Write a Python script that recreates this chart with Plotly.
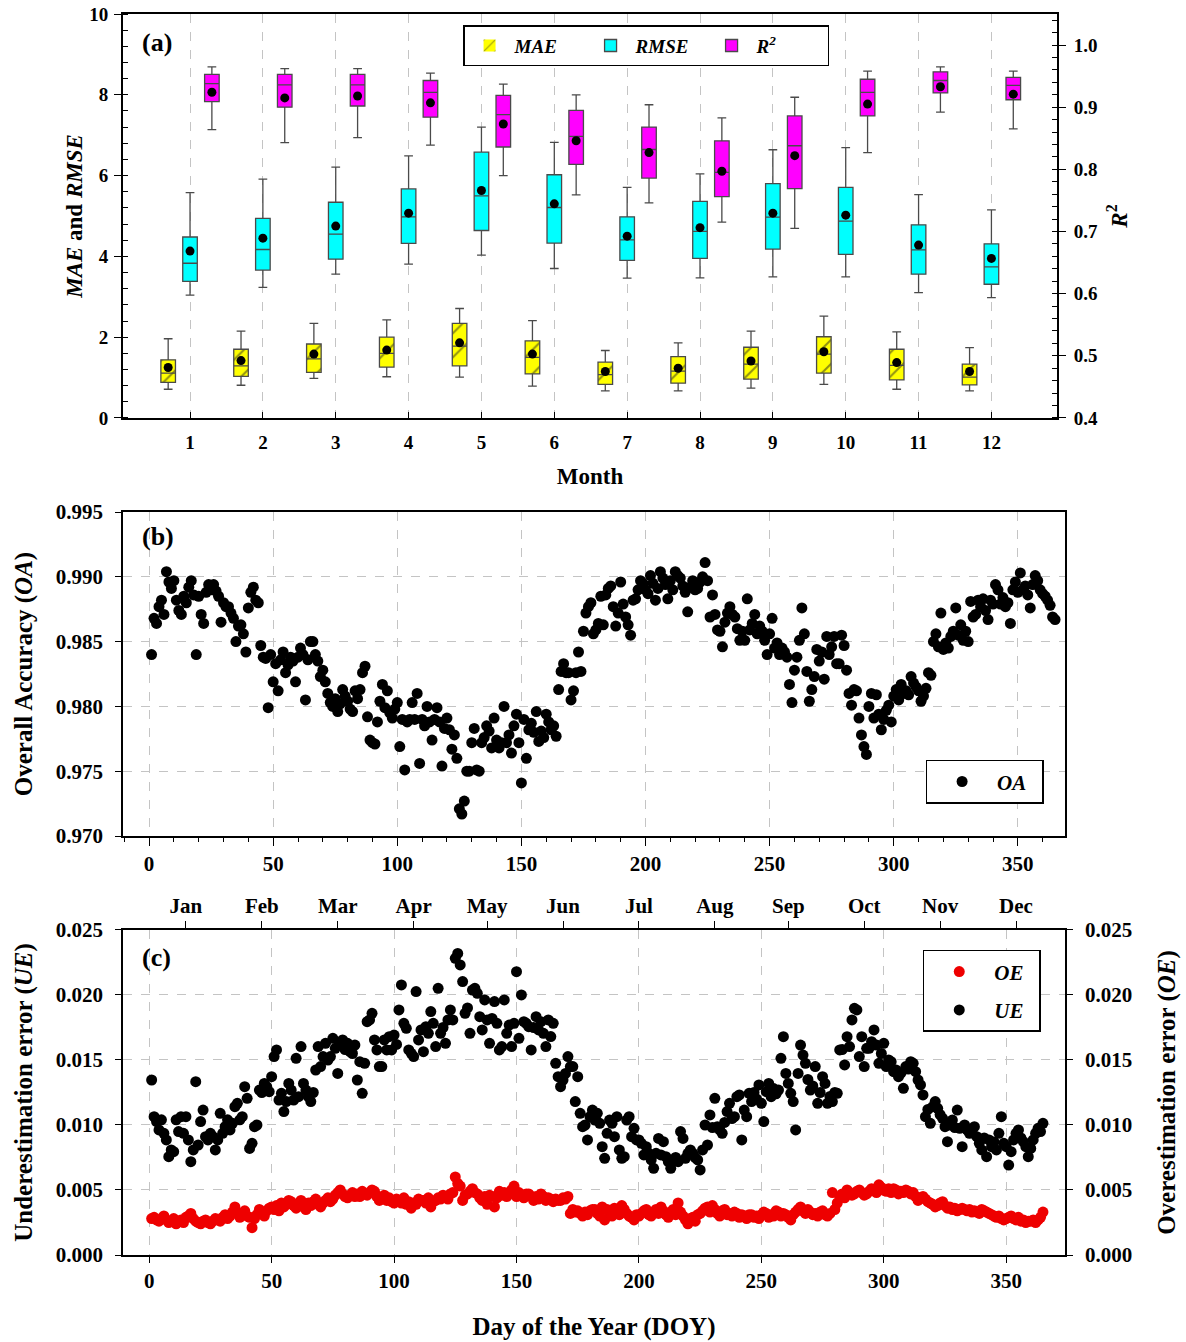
import plotly.graph_objects as go

# ---------------- Panel (a): monthly box statistics ----------------
months = list(range(1, 13))

mae_low = [0.71, 0.81, 0.98, 1.02, 1.01, 0.79, 0.67, 0.67, 0.74, 0.83, 0.71, 0.67]
mae_q1 = [0.88, 1.03, 1.13, 1.26, 1.29, 1.09, 0.83, 0.86, 0.96, 1.11, 0.94, 0.82]
mae_med = [1.11, 1.29, 1.46, 1.60, 1.78, 1.50, 1.07, 1.16, 1.33, 1.58, 1.30, 1.01]
mae_q3 = [1.44, 1.70, 1.83, 2.00, 2.34, 1.91, 1.38, 1.52, 1.75, 2.01, 1.70, 1.33]
mae_high = [1.96, 2.15, 2.34, 2.43, 2.71, 2.41, 1.67, 1.86, 2.15, 2.52, 2.13, 1.74]
mae_mean = [1.25, 1.42, 1.58, 1.68, 1.86, 1.58, 1.15, 1.23, 1.41, 1.64, 1.37, 1.15]

rmse_low = [3.04, 3.23, 3.56, 3.81, 4.03, 3.70, 3.46, 3.47, 3.49, 3.49, 3.10, 2.98]
rmse_q1 = [3.38, 3.66, 3.93, 4.32, 4.64, 4.33, 3.90, 3.95, 4.18, 4.05, 3.56, 3.31]
rmse_med = [3.83, 4.17, 4.55, 4.98, 5.50, 5.21, 4.41, 4.62, 4.97, 4.87, 4.16, 3.74]
rmse_q3 = [4.48, 4.94, 5.34, 5.67, 6.58, 6.02, 4.98, 5.36, 5.80, 5.71, 4.78, 4.31]
rmse_high = [5.58, 5.91, 6.21, 6.49, 7.20, 6.82, 5.71, 6.04, 6.64, 6.69, 5.53, 5.15]
rmse_mean = [4.13, 4.45, 4.75, 5.07, 5.63, 5.30, 4.50, 4.71, 5.07, 5.02, 4.28, 3.95]

r2_low = [0.864, 0.843, 0.851, 0.839, 0.790, 0.759, 0.746, 0.715, 0.705, 0.827, 0.892, 0.865]
r2_q1 = [0.909, 0.900, 0.902, 0.884, 0.836, 0.808, 0.786, 0.756, 0.769, 0.886, 0.923, 0.912]
r2_med = [0.938, 0.936, 0.936, 0.924, 0.888, 0.853, 0.832, 0.795, 0.838, 0.924, 0.943, 0.935]
r2_q3 = [0.953, 0.953, 0.953, 0.943, 0.919, 0.895, 0.868, 0.846, 0.886, 0.945, 0.957, 0.948]
r2_high = [0.965, 0.962, 0.962, 0.955, 0.937, 0.920, 0.904, 0.883, 0.916, 0.958, 0.965, 0.958]
r2_mean = [0.924, 0.915, 0.918, 0.907, 0.873, 0.846, 0.827, 0.797, 0.822, 0.905, 0.933, 0.921]

# ---------------- Panel (b): daily overall accuracy ----------------
oa = [
    0.9840, 0.9868, 0.9864, 0.9877, 0.9882, 0.9871, 0.9904, 0.9896, 0.9891, 0.9897,
    0.9882, 0.9874, 0.9871, 0.9885, 0.9880, 0.9892, 0.9897, 0.9886, 0.9840, 0.9885,
    0.9871, 0.9864, 0.9888, 0.9894, 0.9890, 0.9894, 0.9889, 0.9885, 0.9865, 0.9880,
    0.9877, 0.9877, 0.9872, 0.9868, 0.9850, 0.9862, 0.9863, 0.9856, 0.9842, 0.9876,
    0.9888, 0.9892, 0.9882, 0.9880, 0.9847, 0.9838, 0.9837, 0.9799, 0.9840, 0.9819,
    0.9833, 0.9812, 0.9836, 0.9842, 0.9826, 0.9832, 0.9838, 0.9835, 0.9819, 0.9838,
    0.9845, 0.9840, 0.9805, 0.9836, 0.9850, 0.9850, 0.9840, 0.9835, 0.9823, 0.9828,
    0.9819, 0.9810, 0.9803, 0.9800, 0.9806, 0.9796, 0.9802, 0.9813, 0.9808, 0.9804,
    0.9798, 0.9796, 0.9812, 0.9806, 0.9813, 0.9826, 0.9831, 0.9792, 0.9774, 0.9772,
    0.9771, 0.9788, 0.9804, 0.9817, 0.9799, 0.9812, 0.9795, 0.9791, 0.9798, 0.9803,
    0.9769, 0.9790, 0.9751, 0.9788, 0.9790, 0.9803, 0.9790, 0.9810, 0.9756, 0.9790,
    0.9785, 0.9800, 0.9788, 0.9774, 0.9790, 0.9799, 0.9788, 0.9754, 0.9783, 0.9791,
    0.9782, 0.9767, 0.9778, 0.9760, 0.9721, 0.9717, 0.9727, 0.9750, 0.9750, 0.9772,
    0.9783, 0.9751, 0.9750, 0.9772, 0.9776, 0.9785, 0.9781, 0.9768, 0.9791, 0.9774,
    0.9768, 0.9772, 0.9800, 0.9772, 0.9778, 0.9764, 0.9785, 0.9794, 0.9772, 0.9741,
    0.9790, 0.9760, 0.9782, 0.9787, 0.9780, 0.9796, 0.9773, 0.9781, 0.9776, 0.9794,
    0.9788, 0.9782, 0.9785, 0.9777, 0.9813, 0.9827, 0.9833, 0.9826, 0.9826, 0.9805,
    0.9812, 0.9826, 0.9842, 0.9827, 0.9858, 0.9872, 0.9877, 0.9880, 0.9856, 0.9859,
    0.9864, 0.9885, 0.9863, 0.9886, 0.9891, 0.9893, 0.9877, 0.9862, 0.9872, 0.9896,
    0.9879, 0.9869, 0.9863, 0.9855, 0.9882, 0.9883, 0.9890, 0.9897, 0.9895, 0.9890,
    0.9887, 0.9901, 0.9895, 0.9882, 0.9891, 0.9904, 0.9899, 0.9894, 0.9883, 0.9897,
    0.9890, 0.9904, 0.9901, 0.9899, 0.9893, 0.9888, 0.9873, 0.9892, 0.9897, 0.9890,
    0.9891, 0.9896, 0.9900, 0.9911, 0.9897, 0.9869, 0.9886, 0.9871, 0.9859, 0.9858,
    0.9846, 0.9865, 0.9872, 0.9877, 0.9871, 0.9869, 0.9860, 0.9851, 0.9858, 0.9851,
    0.9883, 0.9859, 0.9864, 0.9871, 0.9856, 0.9862, 0.9858, 0.9851, 0.9840, 0.9856,
    0.9868, 0.9845, 0.9849, 0.9840, 0.9845, 0.9842, 0.9838, 0.9817, 0.9803, 0.9828,
    0.9838, 0.9851, 0.9876, 0.9856, 0.9827, 0.9804, 0.9813, 0.9823, 0.9844, 0.9835,
    0.9842, 0.9821, 0.9854, 0.9840, 0.9846, 0.9854, 0.9833, 0.9833, 0.9855, 0.9847,
    0.9828, 0.9810, 0.9801, 0.9813, 0.9812, 0.9791, 0.9778, 0.9769, 0.9763, 0.9800,
    0.9810, 0.9791, 0.9809, 0.9794, 0.9782, 0.9790, 0.9797, 0.9801, 0.9788, 0.9808,
    0.9813, 0.9805, 0.9817, 0.9810, 0.9812, 0.9809, 0.9823, 0.9818, 0.9815, 0.9812,
    0.9804, 0.9808, 0.9814, 0.9826, 0.9824, 0.9850, 0.9856, 0.9846, 0.9872, 0.9844,
    0.9849, 0.9845, 0.9854, 0.9858, 0.9876, 0.9855, 0.9863, 0.9851, 0.9858, 0.9850,
    0.9881, 0.9869, 0.9871, 0.9882, 0.9877, 0.9883, 0.9874, 0.9867, 0.9882, 0.9879,
    0.9894, 0.9890, 0.9879, 0.9884, 0.9877, 0.9880, 0.9864, 0.9890, 0.9896, 0.9888,
    0.9903, 0.9890, 0.9893, 0.9886, 0.9876, 0.9894, 0.9901, 0.9897, 0.9890, 0.9887,
    0.9885, 0.9882, 0.9878, 0.9869, 0.9867,
]

# ---------------- Panel (c): daily under/over-estimation errors ----------------
ue = [
    0.01346, 0.01064, 0.01026, 0.00962, 0.01040, 0.00936, 0.00885, 0.00756, 0.00808, 0.00795,
    0.01040, 0.00949, 0.01064, 0.00936, 0.01064, 0.00885, 0.00718, 0.00808, 0.01333, 0.00846,
    0.01026, 0.01115, 0.00910, 0.00885, 0.00936, 0.00910, 0.00808, 0.00885, 0.01090, 0.00936,
    0.00987, 0.01040, 0.00962, 0.01013, 0.01141, 0.01167, 0.01040, 0.01064, 0.01295, 0.01205,
    0.00820, 0.00859, 0.00987, 0.01000, 0.01269, 0.01250, 0.01320, 0.01295, 0.01256, 0.01372,
    0.01526, 0.01577, 0.01192, 0.01244, 0.01103, 0.01180, 0.01320, 0.01269, 0.01192, 0.01513,
    0.01218, 0.01603, 0.01320, 0.01269, 0.01218, 0.01180, 0.01250, 0.01423, 0.01603, 0.01449,
    0.01526, 0.01628, 0.01500, 0.01526, 0.01667, 0.01590, 0.01397, 0.01620, 0.01654, 0.01580,
    0.01628, 0.01564, 0.01550, 0.01615, 0.01346, 0.01487, 0.01244, 0.01474, 0.01795, 0.01808,
    0.01859, 0.01654, 0.01577, 0.01449, 0.01449, 0.01654, 0.01577, 0.01679, 0.01577, 0.01692,
    0.01620, 0.01885, 0.02077, 0.01782, 0.01744, 0.01577, 0.01551, 0.01526, 0.02026, 0.01654,
    0.01731, 0.01564, 0.01756, 0.01705, 0.01872, 0.01782, 0.01603, 0.02051, 0.01705, 0.01750,
    0.01628, 0.01808, 0.01885, 0.01808, 0.02282, 0.02320, 0.02231, 0.02103, 0.01859, 0.01900,
    0.01705, 0.02038, 0.02051, 0.02013, 0.01833, 0.01731, 0.01962, 0.01808, 0.01628, 0.01820,
    0.01949, 0.01782, 0.01577, 0.01603, 0.01962, 0.01705, 0.01769, 0.01603, 0.01782, 0.02179,
    0.01667, 0.02000, 0.01795, 0.01782, 0.01756, 0.01577, 0.01750, 0.01833, 0.01731, 0.01795,
    0.01705, 0.01603, 0.01808, 0.01680, 0.01782, 0.01474, 0.01372, 0.01295, 0.01346, 0.01397,
    0.01526, 0.01449, 0.01449, 0.01180, 0.01372, 0.01090, 0.00987, 0.01000, 0.00885, 0.01064,
    0.01115, 0.01038, 0.01090, 0.01013, 0.00833, 0.00744, 0.00936, 0.01038, 0.01013, 0.00910,
    0.01064, 0.00808, 0.00744, 0.00756, 0.01038, 0.01064, 0.00910, 0.00974, 0.00885, 0.00885,
    0.00859, 0.00770, 0.00833, 0.00782, 0.00731, 0.00667, 0.00782, 0.00897, 0.00770, 0.00872,
    0.00756, 0.00718, 0.00667, 0.00731, 0.00750, 0.00718, 0.00949, 0.00897, 0.00744, 0.00782,
    0.00808, 0.00782, 0.00750, 0.00731, 0.00654, 0.00808, 0.01000, 0.00846, 0.01077, 0.00980,
    0.01205, 0.00987, 0.00962, 0.00936, 0.01020, 0.01103, 0.01167, 0.01050, 0.01064, 0.01218,
    0.01231, 0.00885, 0.01115, 0.01064, 0.01244, 0.01180, 0.01250, 0.01200, 0.01308, 0.01167,
    0.01026, 0.01256, 0.01320, 0.01218, 0.01280, 0.01240, 0.01269, 0.01513, 0.01679, 0.01397,
    0.01320, 0.01244, 0.01180, 0.00962, 0.01397, 0.01615, 0.01538, 0.01474, 0.01350, 0.01269,
    0.01300, 0.01449, 0.01167, 0.01250, 0.01372, 0.01320, 0.01167, 0.01220, 0.01180, 0.01250,
    0.01244, 0.01577, 0.01580, 0.01462, 0.01679, 0.01603, 0.01808, 0.01897, 0.01885, 0.01526,
    0.01679, 0.01449, 0.01590, 0.01590, 0.01641, 0.01731, 0.01615, 0.01474, 0.01550, 0.01628,
    0.01449, 0.01500, 0.01487, 0.01410, 0.01423, 0.01372, 0.01400, 0.01282, 0.01449, 0.01430,
    0.01487, 0.01474, 0.01410, 0.01346, 0.01308, 0.01231, 0.01064, 0.01120, 0.01013, 0.01141,
    0.01180, 0.01128, 0.01080, 0.01051, 0.00987, 0.00872, 0.01000, 0.01038, 0.00980, 0.01115,
    0.00974, 0.00833, 0.01000, 0.00962, 0.00936, 0.00950, 0.00987, 0.00910, 0.00859, 0.00808,
    0.00900, 0.00756, 0.00885, 0.00833, 0.00870, 0.00808, 0.00936, 0.01064, 0.00859, 0.00833,
    0.00692, 0.00795, 0.00885, 0.00936, 0.00962, 0.00900, 0.00872, 0.00833, 0.00756, 0.00820,
    0.00885, 0.00936, 0.00974, 0.00949, 0.01013,
]

oe = [
    0.0028, 0.0029, 0.0027, 0.0026, 0.0028, 0.0030, 0.0027, 0.0025, 0.0026, 0.0028,
    0.0024, 0.0026, 0.0027, 0.0025, 0.0029, 0.0030, 0.0032, 0.0028, 0.0026, 0.0025,
    0.0024, 0.0026, 0.0027, 0.0025, 0.0024, 0.0026, 0.0028, 0.0027, 0.0026, 0.0029,
    0.0031, 0.0028, 0.0030, 0.0033, 0.0037, 0.0032, 0.0029, 0.0031, 0.0034, 0.0030,
    0.0029, 0.0021, 0.0028, 0.0031, 0.0035, 0.0033, 0.0030, 0.0034, 0.0036, 0.0037,
    0.0035, 0.0038, 0.0034, 0.0040, 0.0037, 0.0039, 0.0042, 0.0041, 0.0038, 0.0036,
    0.0039, 0.0042, 0.0037, 0.0035, 0.0040, 0.0038, 0.0041, 0.0043, 0.0039, 0.0037,
    0.0040, 0.0042, 0.0044, 0.0041, 0.0043, 0.0046, 0.0048, 0.0050, 0.0047, 0.0045,
    0.0044, 0.0046, 0.0048, 0.0045, 0.0047, 0.0045, 0.0049, 0.0047, 0.0046, 0.0048,
    0.0050, 0.0049, 0.0045, 0.0042, 0.0044, 0.0046, 0.0042, 0.0044, 0.0041, 0.0040,
    0.0043, 0.0042, 0.0040, 0.0044, 0.0039, 0.0041, 0.0036, 0.0040, 0.0039, 0.0043,
    0.0042, 0.0042, 0.0040, 0.0044, 0.0037, 0.0041, 0.0042, 0.0044, 0.0043, 0.0046,
    0.0045, 0.0043, 0.0047, 0.0048, 0.0060, 0.0055, 0.0053, 0.0042, 0.0046, 0.0047,
    0.0049, 0.0051, 0.0048, 0.0047, 0.0044, 0.0042, 0.0045, 0.0039, 0.0046, 0.0045,
    0.0037, 0.0044, 0.0049, 0.0046, 0.0048, 0.0045, 0.0047, 0.0050, 0.0053, 0.0045,
    0.0048, 0.0046, 0.0044, 0.0047, 0.0047, 0.0045, 0.0042, 0.0045, 0.0043, 0.0047,
    0.0045, 0.0042, 0.0044, 0.0043, 0.0041, 0.0043, 0.0042, 0.0042, 0.0044, 0.0043,
    0.0045, 0.0032, 0.0035, 0.0033, 0.0034, 0.0032, 0.0030, 0.0033, 0.0031, 0.0034,
    0.0035, 0.0035, 0.0032, 0.0030, 0.0037, 0.0027, 0.0035, 0.0033, 0.0030, 0.0036,
    0.0034, 0.0031, 0.0038, 0.0035, 0.0032, 0.0030, 0.0029, 0.0027, 0.0031, 0.0030,
    0.0032, 0.0034, 0.0035, 0.0031, 0.0030, 0.0033, 0.0035, 0.0032, 0.0037, 0.0034,
    0.0031, 0.0029, 0.0033, 0.0035, 0.0031, 0.0040, 0.0033, 0.0030, 0.0027, 0.0024,
    0.0028, 0.0029, 0.0026, 0.0031, 0.0032, 0.0034, 0.0036, 0.0037, 0.0033, 0.0038,
    0.0035, 0.0032, 0.0030, 0.0034, 0.0035, 0.0031, 0.0032, 0.0030, 0.0033, 0.0032,
    0.0029, 0.0031, 0.0030, 0.0028, 0.0031, 0.0031, 0.0029, 0.0030, 0.0028, 0.0031,
    0.0033, 0.0032, 0.0029, 0.0031, 0.0030, 0.0034, 0.0033, 0.0030, 0.0032, 0.0031,
    0.0029, 0.0027, 0.0031, 0.0033, 0.0035, 0.0037, 0.0034, 0.0032, 0.0035, 0.0033,
    0.0031, 0.0032, 0.0030, 0.0033, 0.0034, 0.0031, 0.0030, 0.0032, 0.0048, 0.0035,
    0.0040, 0.0045, 0.0047, 0.0044, 0.0050, 0.0048, 0.0046, 0.0047, 0.0049, 0.0050,
    0.0048, 0.0046, 0.0047, 0.0049, 0.0051, 0.0050, 0.0048, 0.0054, 0.0052, 0.0050,
    0.0049, 0.0051, 0.0048, 0.0051, 0.0050, 0.0047, 0.0049, 0.0048, 0.0050, 0.0049,
    0.0047, 0.0048, 0.0045, 0.0042, 0.0044, 0.0045, 0.0043, 0.0041, 0.0040, 0.0039,
    0.0037, 0.0038, 0.0040, 0.0041, 0.0038, 0.0036, 0.0037, 0.0035, 0.0036, 0.0034,
    0.0035, 0.0036, 0.0035, 0.0034, 0.0035, 0.0033, 0.0034, 0.0033, 0.0032, 0.0035,
    0.0034, 0.0033, 0.0032, 0.0031, 0.0030, 0.0029, 0.0030, 0.0028, 0.0027, 0.0028,
    0.0029, 0.0030, 0.0028, 0.0027, 0.0029, 0.0026, 0.0027, 0.0025, 0.0026, 0.0026,
    0.0027, 0.0025, 0.0027, 0.0029, 0.0033,
]

month_names = ["Jan", "Feb", "Mar", "Apr", "May", "Jun", "Jul", "Aug", "Sep", "Oct", "Nov", "Dec"]
month_mid_doy = [15, 46, 77, 108, 138, 169, 200, 231, 261, 292, 323, 354]

doy_oa = list(range(1, len(oa) + 1))
doy_ue = list(range(1, len(ue) + 1))
doy_oe = list(range(1, len(oe) + 1))

# ---------------- styling ----------------
FONT = "Liberation Serif"
GRID = "#c4c4c4"
BOXLINE = "#4a4a4a"

x_mae = [m - 0.3 for m in months]
x_rmse = [m for m in months]
x_r2 = [m + 0.3 for m in months]

fig = go.Figure()

# MAE: yellow hatched body (bar) + box outline/whiskers on top
fig.add_trace(go.Bar(
    x=x_mae, y=[b - a for a, b in zip(mae_q1, mae_q3)], base=mae_q1, width=0.2,
    marker=dict(color="#ffff00", line=dict(width=0),
                pattern=dict(shape="/", fgcolor="#222222", size=17, solidity=0.12, fillmode="overlay")),
    name="<i>MAE</i>", legend="legend", xaxis="x", yaxis="y", hoverinfo="skip",
))
fig.add_trace(go.Box(
    x=x_mae, q1=mae_q1, median=mae_med, q3=mae_q3, lowerfence=mae_low, upperfence=mae_high,
    width=0.2, whiskerwidth=0.6, fillcolor="rgba(0,0,0,0)", line=dict(color=BOXLINE, width=1.3),
    boxpoints=False, showlegend=False, xaxis="x", yaxis="y",
))
fig.add_trace(go.Box(
    x=x_rmse, q1=rmse_q1, median=rmse_med, q3=rmse_q3, lowerfence=rmse_low, upperfence=rmse_high,
    width=0.2, whiskerwidth=0.6, fillcolor="#00ffff", line=dict(color=BOXLINE, width=1.3),
    boxpoints=False, name="<i>RMSE</i>", legend="legend", xaxis="x", yaxis="y",
))
fig.add_trace(go.Box(
    x=x_r2, q1=r2_q1, median=r2_med, q3=r2_q3, lowerfence=r2_low, upperfence=r2_high,
    width=0.2, whiskerwidth=0.6, fillcolor="#ff00ff", line=dict(color=BOXLINE, width=1.3),
    boxpoints=False, name="<i>R</i><sup>2</sup>", legend="legend", xaxis="x", yaxis="y2",
))
# mean dots
fig.add_trace(go.Scatter(x=x_mae + x_rmse, y=mae_mean + rmse_mean, mode="markers",
                         marker=dict(color="black", size=9), showlegend=False, xaxis="x", yaxis="y"))
fig.add_trace(go.Scatter(x=x_r2, y=r2_mean, mode="markers",
                         marker=dict(color="black", size=9), showlegend=False, xaxis="x", yaxis="y2"))

# Panel (b)
fig.add_trace(go.Scatter(x=doy_oa, y=oa, mode="markers", marker=dict(color="black", size=11),
                         name="<i>OA</i>&nbsp;&nbsp;", legend="legend2", xaxis="x2", yaxis="y3"))

# Panel (c): UE on bottom/left axes, OE on top/right axes (identical DOY and value scales)
fig.add_trace(go.Scatter(x=doy_oe, y=oe, mode="markers", marker=dict(color="#ee0000", size=11),
                         name="<i>OE</i>&nbsp;&nbsp;", legend="legend3", legendgroup="oe",
                         xaxis="x4", yaxis="y5"))
fig.add_trace(go.Scatter(x=doy_ue, y=ue, mode="markers", marker=dict(color="black", size=11),
                         name="<i>UE</i>&nbsp;&nbsp;", legend="legend3", legendgroup="ue",
                         xaxis="x3", yaxis="y4"))

tickA = dict(family=FONT, size=19, color="black", weight="bold")
tickB = dict(family=FONT, size=21, color="black", weight="bold")
titleA = dict(family=FONT, size=23, color="black", weight="bold")
titleB = dict(family=FONT, size=25, color="black", weight="bold")
legf = dict(family=FONT, size=21, color="black", weight="bold", style="italic")

fig.update_layout(
    width=1186, height=1342,
    margin=dict(l=123, r=121, t=14, b=87, autoexpand=False),
    paper_bgcolor="white", plot_bgcolor="white",
    barmode="overlay",
    font=dict(family=FONT, color="black"),
    # ---- (a) ----
    xaxis=dict(domain=[0, 0.9915], anchor="y", range=[0.08, 12.9], automargin=False,
               tickvals=months, ticks="inside", ticklen=6, tickcolor="black", ticklabelstandoff=6,
               showline=True, linecolor="black", linewidth=2, mirror=True,
               showgrid=True, gridcolor=GRID, griddash="dash", gridwidth=1,
               tickfont=tickA, zeroline=False,
               title=dict(text="Month", font=titleA, standoff=16)),
    yaxis=dict(domain=[0.6745, 1.0], anchor="x", range=[0, 10], dtick=2, automargin=False,
               ticks="outside", ticklen=7, tickcolor="black", ticklabelstandoff=2,
               minor=dict(dtick=0.4, ticks="inside", ticklen=5, tickcolor="black", showgrid=False),
               showline=True, linecolor="black", linewidth=2, showgrid=False, zeroline=False,
               tickfont=tickA,
               title=dict(text="<i>MAE</i> and <i>RMSE</i>", font=titleA, standoff=0)),
    yaxis2=dict(overlaying="y", side="right", anchor="x", range=[0.4, 1.05], dtick=0.1, automargin=False,
                tickformat=".1f", ticks="outside", ticklen=7, tickcolor="black", ticklabelstandoff=4,
                minor=dict(dtick=0.02, ticks="inside", ticklen=5, tickcolor="black", showgrid=False),
                showline=True, linecolor="black", linewidth=2, showgrid=False, zeroline=False,
                tickfont=tickA,
                title=dict(text="<i>R</i><sup>2</sup>", font=titleA, standoff=14)),
    # ---- (b) ----
    xaxis2=dict(domain=[0, 1], anchor="y3", range=[-10.5, 369], dtick=50, automargin=False,
                ticks="outside", ticklen=8, tickcolor="black",
                minor=dict(dtick=10, ticks="outside", ticklen=4, tickcolor="black", showgrid=False),
                showline=True, linecolor="black", linewidth=1.5, mirror=True,
                showgrid=True, gridcolor=GRID, griddash="dash", zeroline=False, tickfont=tickB),
    yaxis3=dict(domain=[0.3376, 0.5987], anchor="x2", range=[0.970, 0.995], dtick=0.005, automargin=False,
                tickformat=".3f", ticks="outside", ticklen=6, tickcolor="black", ticklabelstandoff=8,
                showline=True, linecolor="black", linewidth=1.5, mirror=True,
                showgrid=True, gridcolor=GRID, griddash="dash", zeroline=False, tickfont=tickB,
                title=dict(text="Overall Accuracy (<i>OA</i>)", font=titleB, standoff=16)),
    # ---- (c) ----
    xaxis3=dict(domain=[0, 1], anchor="y4", range=[-10.7, 374], dtick=50, automargin=False,
                ticks="outside", ticklen=6, tickcolor="black",
                showline=True, linecolor="black", linewidth=1.5,
                showgrid=True, gridcolor=GRID, griddash="dash", zeroline=False, tickfont=tickB,
                title=dict(text="Day of the Year (DOY)", font=titleB, standoff=26)),
    xaxis4=dict(overlaying="x3", side="top", anchor="y5", range=[-10.7, 374], automargin=False,
                tickvals=month_mid_doy, ticktext=month_names,
                ticks="outside", ticklen=7, tickcolor="black",
                showline=True, linecolor="black", linewidth=1.5,
                showgrid=False, zeroline=False, tickfont=tickB),
    yaxis4=dict(domain=[0, 0.2619], anchor="x3", range=[0, 0.025], dtick=0.005, automargin=False,
                tickformat=".3f", ticks="outside", ticklen=6, tickcolor="black", ticklabelstandoff=8,
                showline=True, linecolor="black", linewidth=1.5,
                showgrid=True, gridcolor=GRID, griddash="dash", zeroline=False, tickfont=tickB,
                title=dict(text="Underestimation error (<i>UE</i>)", font=titleB, standoff=16)),
    yaxis5=dict(overlaying="y4", side="right", anchor="x4", range=[0, 0.025], dtick=0.005, automargin=False,
                tickformat=".3f", ticks="outside", ticklen=6, tickcolor="black", ticklabelstandoff=8,
                showline=True, linecolor="black", linewidth=1.5,
                showgrid=False, zeroline=False, tickfont=tickB,
                title=dict(text="Overestimation error (<i>OE</i>)", font=titleB, standoff=26)),
    legend=dict(orientation="h", x=0.361, y=0.991, xanchor="left", yanchor="top",
                bgcolor="white", bordercolor="black", borderwidth=1.5,
                font=dict(family=FONT, size=19, color="black", weight="bold", style="italic"),
                entrywidth=66, itemwidth=40, traceorder="normal"),
    legend2=dict(x=0.852, y=0.399, xanchor="left", yanchor="top",
                 bgcolor="white", bordercolor="black", borderwidth=1.5,
                 font=legf, itemwidth=60),
    legend3=dict(x=0.849, y=0.2458, xanchor="left", yanchor="top",
                 bgcolor="white", bordercolor="black", borderwidth=1.5,
                 font=legf, itemwidth=60, traceorder="grouped", tracegroupgap=8),
    annotations=[
        dict(text="(a)", xref="x domain", yref="y domain", x=0.018, y=0.93, xanchor="left",
             yanchor="middle", showarrow=False, font=dict(family=FONT, size=26, weight="bold")),
        dict(text="(b)", xref="x2 domain", yref="y3 domain", x=0.018, y=0.923, xanchor="left",
             yanchor="middle", showarrow=False, font=dict(family=FONT, size=26, weight="bold")),
        dict(text="(c)", xref="x3 domain", yref="y4 domain", x=0.018, y=0.914, xanchor="left",
             yanchor="middle", showarrow=False, font=dict(family=FONT, size=26, weight="bold")),
    ],
)

fig.write_html("out.html")
